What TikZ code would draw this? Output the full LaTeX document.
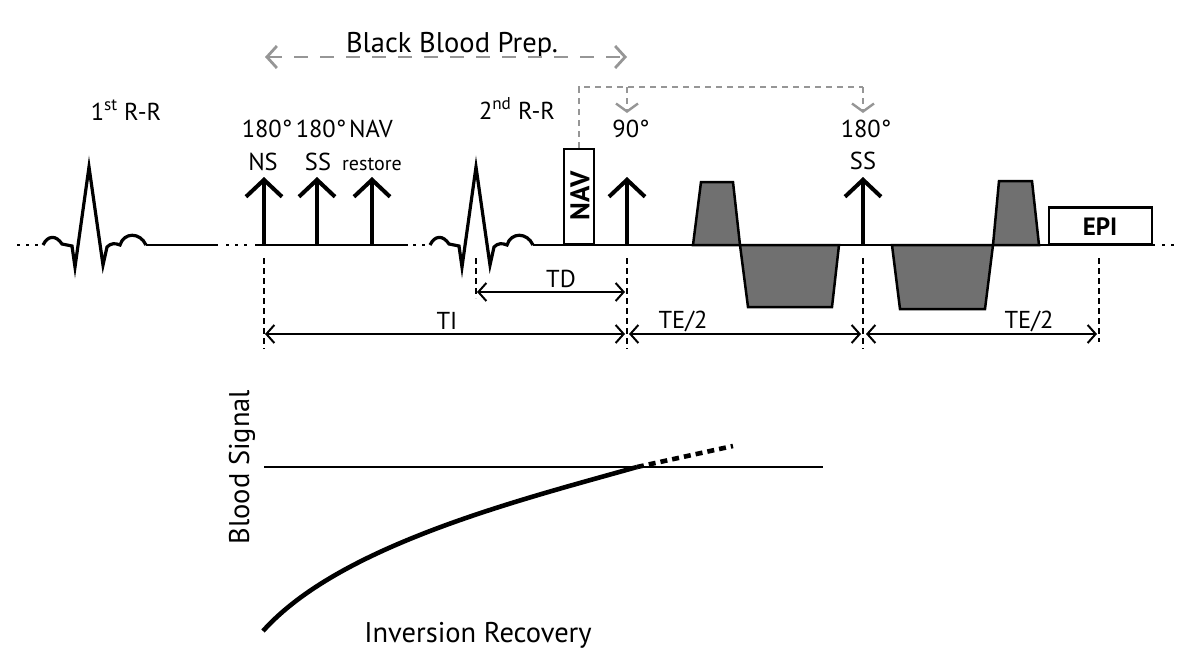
\documentclass[tikz,border=0pt]{standalone}
\usepackage{fontspec}
\setmainfont{PT Sans}
\usetikzlibrary{arrows.meta}
\definecolor{gradfill}{RGB}{112,112,112}
\definecolor{prepgray}{RGB}{150,150,150}
\tikzset{
  lbl/.style={font=\fontsize{24.5}{28}\selectfont, inner sep=0pt, anchor=base},
  biglbl/.style={font=\fontsize{28.5}{32}\selectfont, inner sep=0pt, anchor=base},
  smalllbl/.style={font=\fontsize{20}{24}\selectfont, inner sep=0pt, anchor=base},
  pulse/.style={line width=4pt, -{Straight Barb[length=17pt,width=36pt]}},
  dimarrow/.style={line width=2pt, {Straight Barb[length=8pt,width=18pt]}-{Straight Barb[length=8pt,width=18pt]}},
  vdash/.style={line width=2pt, dash pattern=on 6pt off 4pt},
  prep/.style={draw=prepgray, line width=2.8pt, dash pattern=on 14pt off 12pt, {Straight Barb[length=10pt,width=22pt]}-{Straight Barb[length=10pt,width=22pt]}},
  navline/.style={draw=prepgray, line width=2.4pt, dash pattern=on 6pt off 5pt},
  navarrow/.style={navline, -{Straight Barb[length=8pt,width=22pt]}},
  grad/.style={fill=gradfill, draw=black, line width=2.5pt, line join=miter},
  base/.style={line width=2.6pt},
  dots/.style={line width=2.6pt, dash pattern=on 3pt off 6pt},
  ecg/.style={line width=3.2pt, line join=miter},
  boxst/.style={draw=black, fill=white, line width=2.4pt, inner sep=0pt}
}
\begin{document}
\begin{tikzpicture}[x=1pt,y=-1pt]
\useasboundingbox (0,0) rectangle (1200,664);

% ---------- baseline and ECG ----------
\draw[dots] (17,245) -- (42,245);
\foreach \s in {0,387}{
  \draw[ecg, xshift=\s pt] (43,245) .. controls (48,235) and (56,235) .. (62,244) -- (72,246) -- (75,267) -- (89,167) -- (103,265) -- (107,247) .. controls (111,243) and (115,243) .. (120,245) .. controls (124,232) and (140,232) .. (146,245);
}
\draw[base] (146,245) -- (218,245);
\draw[dots] (226,245) -- (250,245);
\draw[base] (255,245) -- (408,245);
\draw[dots] (413,245) -- (429,245);
\draw[base] (533,245) -- (1155,245);
\draw[dots] (1162,245) -- (1176,245);

% ---------- gradients ----------
\draw[grad] (693,245) -- (701,182) -- (733,182) -- (740,245) -- cycle;
\draw[grad] (740,245) -- (748,307) -- (832,307) -- (839,245) -- cycle;
\draw[grad] (892,245) -- (900,309) -- (985,309) -- (993,245) -- cycle;
\draw[grad] (993,245) -- (999,181) -- (1032,181) -- (1039,245) -- cycle;

% ---------- boxes ----------
\node[boxst, minimum width=30pt, minimum height=95pt] (nav) at (579,196.5) {};
\node[font=\fontsize{27}{30}\selectfont\bfseries, rotate=90, inner sep=0pt] (navtxt) at (580,196) {NAV};
\node[boxst, minimum width=103pt, minimum height=37pt] (epi) at (1100.5,226) {};
\node[font=\fontsize{25}{28}\selectfont\bfseries, inner sep=0pt, anchor=base] (epitxt) at (1100,235) {EPI};

% ---------- RF pulses ----------
\coordinate (p1b) at (264,245); \coordinate (p1t) at (264,177);
\coordinate (p2b) at (317,245); \coordinate (p2t) at (317,177);
\coordinate (p3b) at (372,245); \coordinate (p3t) at (372,177);
\coordinate (p4b) at (627,245); \coordinate (p4t) at (627,177);
\coordinate (p5b) at (863,245); \coordinate (p5t) at (863,177);
\foreach \i in {1,...,5}{ \draw[pulse] (p\i b) -- (p\i t); }

% ---------- labels ----------
\node[lbl] (rr1) at (126,120) {1\textsuperscript{st} R-R};
\node[lbl] (rr2) at (517,119) {2\textsuperscript{nd} R-R};
\node[lbl] (l180a) at (267,137) {180°};
\node[lbl] (lns) at (263,170) {NS};
\node[lbl] (l180b) at (321,137) {180°};
\node[lbl] (lss1) at (318,170) {SS};
\node[lbl] (lnav) at (371,137) {NAV};
\node[smalllbl] (lrest) at (372,170) {restore};
\node[lbl] (l90) at (631,137) {90°};
\node[lbl] (l180c) at (866,137) {180°};
\node[lbl] (lss2) at (863,169) {SS};

% ---------- black blood prep ----------
\node[biglbl] (bbp) at (452,52) {Black Blood Prep.};
\coordinate (bbl) at (265,57);
\coordinate (bbr) at (627,57);
\draw[prep] (bbl) -- (bbr);

% ---------- NAV feedback ----------
\coordinate (navup) at (579,87);
\coordinate (br90) at (627,87);
\coordinate (br180) at (863,87);
\coordinate (a90) at (627,113);
\coordinate (a180) at (863,113);
\draw[navline] (nav.north) -- (navup) -- (br180);
\draw[navarrow] (br180) -- (a180);
\draw[navarrow] (br90) -- (a90);

% ---------- timing ----------
\coordinate (v1a) at (264,258); \coordinate (v1b) at (264,349);
\coordinate (v2a) at (476,258); \coordinate (v2b) at (476,298);
\coordinate (v3a) at (627,258); \coordinate (v3b) at (627,349);
\coordinate (v4a) at (863,258); \coordinate (v4b) at (863,349);
\coordinate (v5a) at (1099,258); \coordinate (v5b) at (1099,342);
\foreach \i in {1,...,5}{ \draw[vdash] (v\i a) -- (v\i b); }

\coordinate (tdl) at (477,292); \coordinate (tdr) at (625,292);
\coordinate (til) at (265,334); \coordinate (tir) at (625,334);
\coordinate (te1l) at (629,334); \coordinate (te1r) at (861,334);
\coordinate (te2l) at (866,334); \coordinate (te2r) at (1097,334);
\draw[dimarrow] (tdl) -- (tdr);
\draw[dimarrow] (til) -- (tir);
\draw[dimarrow] (te1l) -- (te1r);
\draw[dimarrow] (te2l) -- (te2r);
\node[lbl] (ltd) at (561,287) {TD};
\node[lbl] (lti) at (447,329) {TI};
\node[lbl] (lte1) at (683,328) {TE/2};
\node[lbl] (lte2) at (1029,328) {TE/2};

% ---------- inversion recovery graph ----------
\coordinate (h0) at (264,467);
\coordinate (h1) at (823,467);
\draw[line width=2.2pt] (h0) -- (h1);
\coordinate (c0) at (263,631);
\coordinate (c1) at (637,467);
\coordinate (c2) at (733,446);
\draw[line width=4.6pt] (c0) .. controls (340,545) and (520,500) .. (c1);
\draw[line width=4.6pt, dash pattern=on 7pt off 5pt] (c1) -- (c2);
\node[biglbl, rotate=90] (bs) at (249,467) {Blood Signal};
\node[biglbl] (ir) at (478,642) {Inversion Recovery};
\end{tikzpicture}
\end{document}
